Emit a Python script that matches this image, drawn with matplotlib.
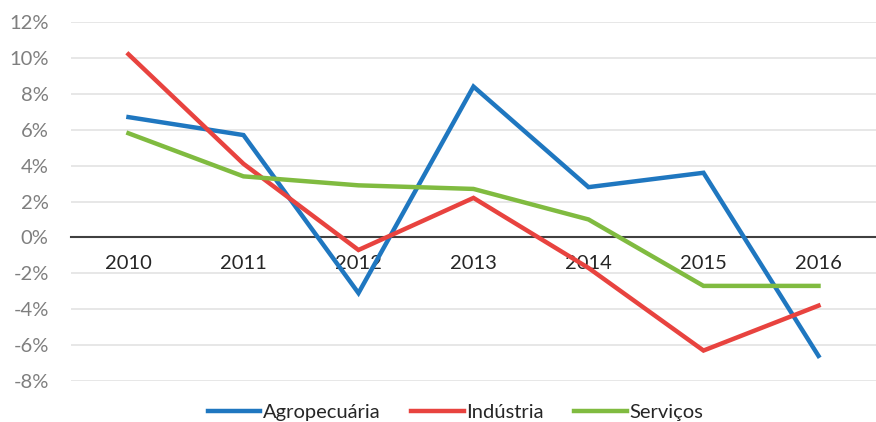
import matplotlib.pyplot as plt
import numpy as np

# growth by sector, % per year
years = ['2010', '2011', '2012', '2013', '2014', '2015', '2016']
agropecuaria = [6.7, 5.7, -3.1, 8.4, 2.8, 3.6, -6.6]
industria = [10.2, 4.1, -0.7, 2.2, -1.7, -6.3, -3.8]
servicos = [5.8, 3.4, 2.9, 2.7, 1.0, -2.7, -2.7]
y_ticks = [-8, -6, -4, -2, 0, 2, 4, 6, 8, 10, 12]

plt.rcParams['font.family'] = ['Lato', 'DejaVu Sans']

fig = plt.figure(figsize=(8.76, 4.22), dpi=100)
ax = fig.add_axes([0.081, 0.097, 0.919, 0.851])

x = np.arange(len(years))
ax.plot(x, agropecuaria, color='#1f77c0', lw=3.2, label='Agropecuária', solid_joinstyle='miter')
ax.plot(x, industria, color='#e8433f', lw=3.2, label='Indústria', solid_joinstyle='miter')
ax.plot(x, servicos, color='#80bb40', lw=3.2, label='Serviços', solid_joinstyle='miter')

ax.set_xlim(-0.5, 6.5)
ax.set_ylim(-8, 12)
ax.set_yticks(y_ticks)
ax.set_yticklabels([f'{v}%' for v in y_ticks], color='#7f7f7f', fontsize=14.5)
ax.yaxis.grid(True, color='#e3e3e3', lw=1.2)
ax.set_axisbelow(True)
ax.tick_params(axis='y', length=0, pad=16)

# category axis sits on the zero line
ax.spines['bottom'].set_position(('data', 0))
ax.spines['bottom'].set_color('#404040')
ax.spines['bottom'].set_linewidth(1.5)
ax.spines['bottom'].set_zorder(1)
for s in ['top', 'right', 'left']:
    ax.spines[s].set_visible(False)
ax.set_xticks(x)
ax.set_xticklabels(years, fontsize=14.5, color='#262626')
ax.tick_params(axis='x', length=0, pad=13)

ax.legend(loc='upper center', bbox_to_anchor=(0.478, -0.04), ncol=3, frameon=False,
          fontsize=14.5, handlelength=2.6, handletextpad=0.15, columnspacing=1.5,
          labelcolor='#262626', borderaxespad=0)

fig.savefig('out.png', dpi=100)
